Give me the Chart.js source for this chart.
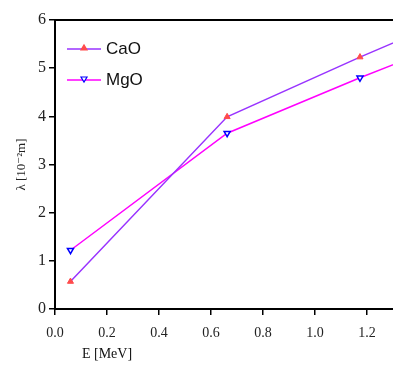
<!DOCTYPE html>
<html>
<head>
<meta charset="utf-8">
<script src="https://cdn.jsdelivr.net/npm/chart.js@4"></script>
<style>
html,body{margin:0;padding:0;background:#fff}
#wrap{width:393px;height:367px}
</style>
</head>
<body>
<div id="wrap"><canvas id="c" width="393" height="367"></canvas></div>
<script>
// photon energies (MeV) and relaxation length values
const energy=[0.0595,0.662,1.173,1.333];
const cao=[0.57,3.99,5.23,5.60];
const mgo=[1.22,3.65,4.80,5.14];
const xTicks=[0,0.2,0.4,0.6,0.8,1.0,1.2];
const yTicks=[0,1,2,3,4,5,6];

const serif='"Liberation Serif","DejaVu Serif",serif';
const sans='"Liberation Sans",Arial,sans-serif';

const pts=v=>energy.map((e,i)=>({x:e,y:v[i]}));

// legend inside plot + top frame line + x title
const extras={
  id:'extras',
  afterDraw(chart){
    const c=chart.ctx,a=chart.chartArea;
    c.save();
    c.strokeStyle='#000';c.lineWidth=2;
    c.beginPath();c.moveTo(a.left,a.top);c.lineTo(a.right,a.top);c.stroke();
    const items=[[chart.data.datasets[0],49],[chart.data.datasets[1],80]];
    items.forEach(([ds,y])=>{
      c.strokeStyle=ds.borderColor;c.lineWidth=1.5;
      c.beginPath();c.moveTo(67,y);c.lineTo(101,y);c.stroke();
      c.fillStyle=ds.pointBackgroundColor;c.strokeStyle=ds.pointBorderColor;c.lineWidth=1.2;
      c.beginPath();
      if(ds.pointRotation===180){c.moveTo(81,y-3);c.lineTo(87,y-3);c.lineTo(84,y+2);}
      else{c.moveTo(81,y+1);c.lineTo(87,y+1);c.lineTo(84,y-4);}
      c.closePath();c.fill();c.stroke();
      c.fillStyle='#111';c.font='17px '+sans;c.textBaseline='middle';c.textAlign='left';
      c.fillText(ds.label,106,y);
    });
    c.fillStyle='#111';c.font='14px '+serif;c.textAlign='center';c.textBaseline='middle';
    c.fillText('E [MeV]',chart.scales.x.getPixelForValue(0.2),354);
    c.restore();
  }
};

new Chart(document.getElementById('c'),{
  type:'line',
  data:{datasets:[
    {label:'CaO',data:pts(cao),borderColor:'#9933ff',borderWidth:1.5,
     pointStyle:'triangle',pointRadius:3.5,pointBackgroundColor:'#ff4b4b',pointBorderColor:'#ff4b4b',pointBorderWidth:1,pointRotation:0},
    {label:'MgO',data:pts(mgo),borderColor:'#ff00ff',borderWidth:1.5,
     pointStyle:'triangle',pointRadius:3.5,pointBackgroundColor:'#ffffff',pointBorderColor:'#0000ff',pointBorderWidth:1.5,pointRotation:180}
  ]},
  options:{
    responsive:false,animation:false,
    layout:{autoPadding:false,padding:{top:20,right:0,left:0,bottom:0}},
    plugins:{legend:{display:false},tooltip:{enabled:false}},
    scales:{
      x:{type:'linear',min:0,max:1.3,
        afterFit(s){s.height=58;s.paddingRight=0;s.paddingLeft=0;},
        afterBuildTicks(s){s.ticks=xTicks.map(v=>({value:v}));},
        grid:{drawOnChartArea:false,drawTicks:true,tickLength:6,color:'#000',lineWidth:1.5},
        border:{display:true,color:'#000',width:2},
        ticks:{autoSkip:false,includeBounds:false,maxRotation:0,color:'#222',padding:10,
          font:{family:serif,size:14},callback:v=>v.toFixed(1)}
      },
      y:{type:'linear',min:0,max:6,
        afterFit(s){s.width=55;},
        afterBuildTicks(s){s.ticks=yTicks.map(v=>({value:v}));},
        grid:{drawOnChartArea:false,drawTicks:true,tickLength:6,color:'#000',lineWidth:1.5},
        border:{display:true,color:'#000',width:2},
        title:{display:true,text:'\u03bb [10\u207b\u00b2m]',color:'#222',font:{family:serif,size:13},padding:{top:14,bottom:0}},
        ticks:{autoSkip:false,color:'#222',padding:3,font:{family:serif,size:16}}
      }
    }
  },
  plugins:[extras]
});
</script>
</body>
</html>
